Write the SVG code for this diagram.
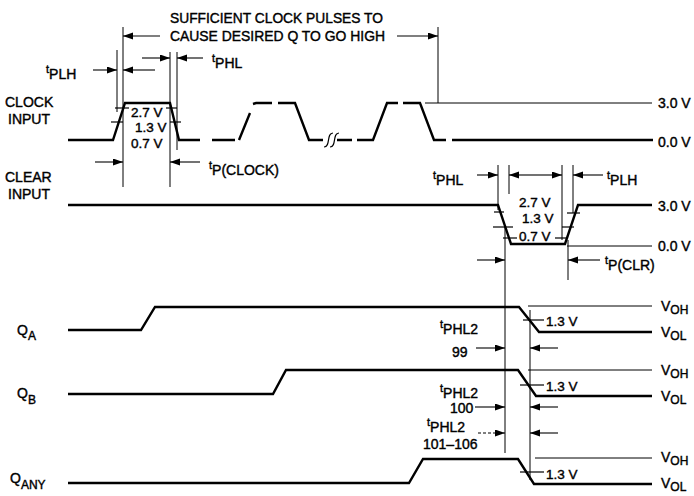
<svg xmlns="http://www.w3.org/2000/svg" width="694" height="496" viewBox="0 0 694 496">
<defs>
<marker id="ah" markerUnits="userSpaceOnUse" markerWidth="11" markerHeight="8" refX="10" refY="3.5" orient="auto">
<path d="M0,0 L10,3.5 L0,7 z" fill="#000"/>
</marker>
<style>
text{font-family:"Liberation Sans",Arial,sans-serif;font-size:14px;fill:#000;stroke:#000;stroke-width:0.4}
.sm{font-size:13.5px}
.wave{fill:none;stroke:#000;stroke-width:2.4;stroke-linejoin:miter}
.ref{fill:none;stroke:#000;stroke-width:1}
.ext{fill:none;stroke:#000;stroke-width:1}
.dim{fill:none;stroke:#000;stroke-width:1.1;marker-end:url(#ah)}
.tick{fill:none;stroke:#000;stroke-width:1.2}
</style>
</defs>
<rect width="694" height="496" fill="#fff"/>

<g id="title">
<text x="170" y="23" textLength="213" lengthAdjust="spacingAndGlyphs">SUFFICIENT CLOCK PULSES TO</text>
<text x="170" y="41" textLength="215" lengthAdjust="spacingAndGlyphs">CAUSE DESIRED Q TO GO HIGH</text>
</g>

<g id="clock">
<text x="5" y="107">CLOCK</text>
<text x="8" y="124">INPUT</text>
<path class="wave" d="M68,140 H113 L125,103 H170 L179,140 H200"/>
<path class="wave" d="M212,140 H235 M239,140 L250,113 M253,104 L256,103 H272 M278,103 H295 L309,140 H323"/>
<path class="wave" d="M337,140 H352 M357,140 H373 L387,103 H398 M403,103 H420 L434,140 H446 M452,140 H653"/>
<path class="tick" d="M324,147 C331,147 326,133 333,133 M330,147 C337,147 332,133 339,133" stroke-width="1.8"/>
<line class="ref" x1="425" y1="103" x2="652" y2="103"/>
<line class="tick" x1="115" y1="108" x2="129" y2="108"/>
<line class="tick" x1="111" y1="122" x2="123" y2="122"/>
<line class="tick" x1="166" y1="108" x2="177" y2="108"/>
<line class="tick" x1="170" y1="122" x2="181" y2="122"/>
<text class="sm" x="131" y="117">2.7 V</text>
<text class="sm" x="135" y="132">1.3 V</text>
<text class="sm" x="131" y="148">0.7 V</text>
<text x="658" y="108">3.0 V</text>
<text x="658" y="147">0.0 V</text>
</g>

<g id="clear">
<text x="5" y="182">CLEAR</text>
<text x="8" y="199">INPUT</text>
<path class="wave" d="M68,205 H498 L511,244 H565 L578,205 H652"/>
<line class="ref" x1="567" y1="246" x2="652" y2="246"/>
<line class="tick" x1="494" y1="212" x2="504" y2="212"/>
<line class="tick" x1="493" y1="227" x2="513" y2="227"/>
<line class="tick" x1="503" y1="238" x2="517" y2="238"/>
<line class="tick" x1="555" y1="238" x2="568" y2="238"/>
<line class="tick" x1="562" y1="227" x2="574" y2="227"/>
<line class="tick" x1="567" y1="213" x2="580" y2="213"/>
<text class="sm" x="519" y="207">2.7 V</text>
<text class="sm" x="522" y="223">1.3 V</text>
<text class="sm" x="519" y="241">0.7 V</text>
<text x="658" y="211">3.0 V</text>
<text x="658" y="251">0.0 V</text>
</g>

<g id="qa">
<text x="17" y="335">Q<tspan font-size="12" dy="5">A</tspan></text>
<path class="wave" d="M68,330 H141 L155,307 H519 L539,332 H652"/>
<line class="ref" x1="528" y1="306" x2="652" y2="306"/>
<line class="tick" x1="523" y1="320" x2="544" y2="320"/>
<text class="sm" x="546" y="326">1.3 V</text>
<text x="661" y="311">V<tspan font-size="12" dy="3">OH</tspan></text>
<text x="661" y="337">V<tspan font-size="12" dy="3">OL</tspan></text>
</g>

<g id="qb">
<text x="17" y="398">Q<tspan font-size="12" dy="6">B</tspan></text>
<path class="wave" d="M68,394 H273 L286,370 H518 L536,396 H652"/>
<line class="ref" x1="528" y1="370" x2="652" y2="370"/>
<line class="tick" x1="520" y1="385" x2="544" y2="385"/>
<text class="sm" x="546" y="391">1.3 V</text>
<text x="661" y="375">V<tspan font-size="12" dy="3">OH</tspan></text>
<text x="661" y="401">V<tspan font-size="12" dy="3">OL</tspan></text>
</g>

<g id="qany">
<text x="10" y="483">Q<tspan font-size="12" dy="6">ANY</tspan></text>
<path class="wave" d="M68,483 H409 L423,459 H518 L534,484 H652"/>
<line class="ref" x1="535" y1="458" x2="652" y2="458"/>
<line class="tick" x1="520" y1="472" x2="544" y2="472"/>
<text class="sm" x="546" y="479">1.3 V</text>
<text x="661" y="462">V<tspan font-size="12" dy="3">OH</tspan></text>
<text x="661" y="488">V<tspan font-size="12" dy="3">OL</tspan></text>
</g>

<g id="timing-labels">
<text x="46" y="79"><tspan font-size="11" dy="-6">t</tspan><tspan dy="6">PLH</tspan></text>
<text x="212" y="68"><tspan font-size="11" dy="-6">t</tspan><tspan dy="6">PHL</tspan></text>
<text x="209" y="175"><tspan font-size="11" dy="-6">t</tspan><tspan dy="6">P(CLOCK)</tspan></text>
<text x="433" y="185"><tspan font-size="11" dy="-6">t</tspan><tspan dy="6">PHL</tspan></text>
<text x="607" y="185"><tspan font-size="11" dy="-6">t</tspan><tspan dy="6">PLH</tspan></text>
<text x="605" y="270"><tspan font-size="11" dy="-6">t</tspan><tspan dy="6">P(CLR)</tspan></text>
<text x="440" y="334"><tspan font-size="11" dy="-6">t</tspan><tspan dy="6">PHL2</tspan></text>
<text x="452" y="357">99</text>
<text x="440" y="398"><tspan font-size="11" dy="-6">t</tspan><tspan dy="6">PHL2</tspan></text>
<text x="450" y="413">100</text>
<text x="427" y="432"><tspan font-size="11" dy="-6">t</tspan><tspan dy="6">PHL2</tspan></text>
<text x="423" y="449">101–106</text>
</g>

<g id="connectors">
<line class="ext" x1="123" y1="27" x2="123" y2="187"/>
<line class="ext" x1="117" y1="50" x2="117" y2="112"/>
<line class="ext" x1="170" y1="52" x2="170" y2="187"/>
<line class="ext" x1="177" y1="52" x2="177" y2="150"/>
<line class="ext" x1="438" y1="27" x2="438" y2="103"/>
<line class="ext" x1="498" y1="165" x2="498" y2="210"/>
<line class="ext" x1="509" y1="165" x2="509" y2="194"/>
<line class="ext" x1="562" y1="165" x2="562" y2="240"/>
<line class="ext" x1="573" y1="165" x2="573" y2="213"/>
<line class="ext" x1="505" y1="226" x2="505" y2="453"/>
<line class="ext" x1="568" y1="240" x2="568" y2="280"/>
<line class="ext" x1="530" y1="310" x2="530" y2="480"/>

<line class="dim" x1="160" y1="36" x2="123" y2="36"/>
<line class="dim" x1="397" y1="36" x2="438" y2="36"/>
<line class="dim" x1="93" y1="70" x2="117" y2="70"/>
<line class="dim" x1="155" y1="70" x2="123" y2="70"/>
<line class="dim" x1="142" y1="58" x2="170" y2="58"/>
<line class="dim" x1="203" y1="58" x2="177" y2="58"/>
<line class="dim" x1="95" y1="162" x2="123" y2="162"/>
<line class="dim" x1="200" y1="162" x2="170" y2="162"/>
<line class="dim" x1="477" y1="175" x2="498" y2="175"/>
<line class="dim" x1="536" y1="175" x2="509" y2="175"/>
<line class="dim" x1="536" y1="175" x2="562" y2="175"/>
<line class="dim" x1="603" y1="175" x2="573" y2="175"/>
<line class="dim" x1="477" y1="260" x2="505" y2="260"/>
<line class="dim" x1="600" y1="260" x2="568" y2="260"/>
<line class="dim" x1="476" y1="348" x2="505" y2="348"/>
<line class="dim" x1="558" y1="348" x2="530" y2="348"/>
<line class="dim" x1="475" y1="407" x2="505" y2="407"/>
<line class="dim" x1="558" y1="407" x2="530" y2="407"/>
<line class="dim" x1="478" y1="433" x2="505" y2="433" stroke-dasharray="3 2"/>
<line class="dim" x1="558" y1="433" x2="530" y2="433"/>
</g>
</svg>
